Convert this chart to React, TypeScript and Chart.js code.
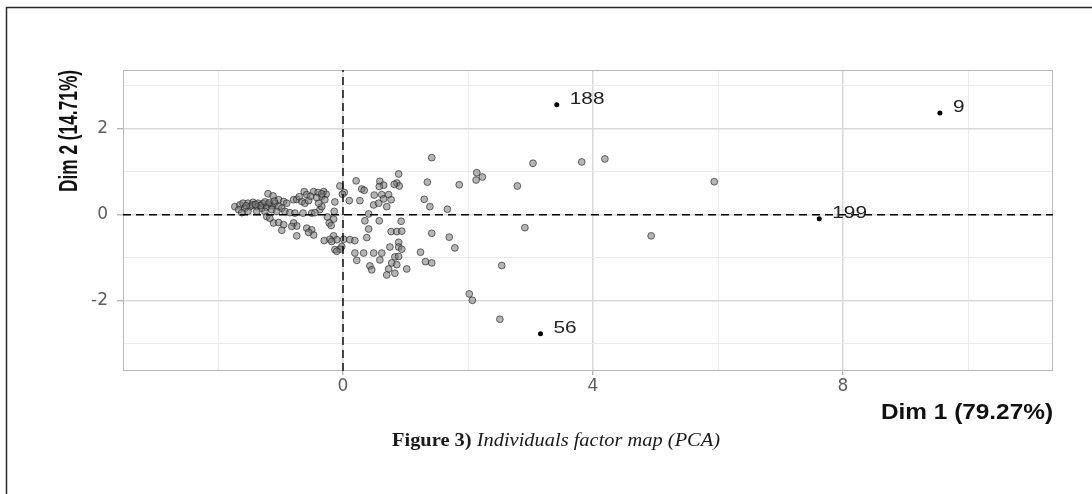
import React, { useEffect, useRef } from "react";
import { Chart, registerables } from "chart.js";

Chart.register(...registerables);

// ---- data (Dim 1, Dim 2 coordinates of individuals) ----
const dim1Values = [
  1.42, 3.04, 3.82, 4.19, 2.14, 2.13, 2.23, 1.35, 1.86, 2.79, 1.3, 1.39, 1.67, 2.91, 1.42, 1.7, 1.79, 1.24, 1.32, 1.42,
  2.54, 2.02, 2.07, 2.51, 5.94, 4.93,
  0.89, 0.21, 0.59, 0.65, 0.58, 0.86, 0.9, 0.82, -0.05, 0.02, -0.01, 0.3, 0.34, -0.31, -0.27, -0.34, -0.29, 0.5, 0.62,
  0.73, 0.65, 0.77, 0.1, 0.27, -0.13, 0.49, 0.57, 0.7, -0.14, -0.37, 0.41, -0.25, -0.15, -0.22, -0.19, 0.35, 0.58, 0.93,
  0.41, 0.77, 0.86, 0.94, 0.38, -0.15, -0.1, -0.3, -0.21, 0.01, 0.11, 0.19, 0.89, 0.75, 0.89, 0.94, -0.02, -0.05, -0.13,
  0.19, 0.33, 0.49, 0.62, 0.83, 0.89, 0.22, 0.59, 0.78, 0.43, 0.46, 0.86, 0.73, 0.7, 1.02, 0.83, -0.1, -0.18,
  -1.2, -1.12, -0.62, -0.58, -0.47, -0.4, -0.34, -1.03, -0.95, -0.9, -0.79, -0.74, -0.66, -0.61, -0.55, -1.73, -1.65,
  -1.6, -1.52, -1.44, -1.36, -1.28, -1.2, -1.67, -1.57, -1.49, -1.38, -1.3, -1.22, -1.14, -1.09, -1.03, -0.98, -1.14,
  -1.06, -1.25, -1.38, -1.52, -1.62, -1.22, -1.17, -0.93, -0.85, -0.77, -0.64, -0.5, -0.45, -0.34, -0.39, -1.11, -1.03,
  -0.95, -0.98, -0.79, -0.74, -0.82, -0.74, -0.58, -0.5, -0.47, -0.55,
  -1.45, -1.32, -1.25, -1.55, -1.4, -1.18, -1.1, -0.7, -0.52, -0.42,
];
const dim2Values = [
  1.33, 1.2, 1.23, 1.3, 0.98, 0.81, 0.88, 0.76, 0.7, 0.67, 0.36, 0.19, 0.13, -0.3, -0.43, -0.52, -0.77, -0.87, -1.09, -1.12,
  -1.18, -1.84, -1.99, -2.43, 0.77, -0.49,
  0.95, 0.79, 0.78, 0.69, 0.66, 0.74, 0.67, 0.71, 0.67, 0.52, 0.48, 0.6, 0.57, 0.54, 0.48, 0.43, 0.35, 0.46, 0.47,
  0.47, 0.37, 0.35, 0.33, 0.33, 0.3, 0.23, 0.27, 0.19, 0.08, 0.12, 0.02, -0.05, -0.1, -0.19, -0.25, -0.14, -0.14, -0.15,
  -0.33, -0.39, -0.39, -0.38, -0.53, -0.49, -0.58, -0.6, -0.57, -0.57, -0.58, -0.6, -0.64, -0.75, -0.75, -0.8, -0.74, -0.8, -0.81,
  -0.89, -0.89, -0.89, -0.89, -0.98, -0.97, -1.06, -1.05, -1.12, -1.19, -1.28, -1.16, -1.26, -1.4, -1.26, -1.36, -0.85, -0.62,
  0.49, 0.44, 0.54, 0.47, 0.54, 0.52, 0.49, 0.35, 0.31, 0.27, 0.35, 0.36, 0.31, 0.27, 0.33, 0.19, 0.23,
  0.27, 0.27, 0.29, 0.27, 0.26, 0.25, 0.12, 0.15, 0.19, 0.19, 0.15, 0.18, 0.21, 0.27, 0.19, 0.15, 0.12,
  0.08, 0.08, 0.08, 0.08, 0.05, -0.04, -0.08, 0.08, 0.05, 0.04, 0.04, 0.04, 0.05, 0.19, 0.27, -0.19, -0.18,
  -0.23, -0.36, -0.19, -0.26, -0.27, -0.49, -0.31, -0.35, -0.47, -0.41,
  0.23, 0.22, 0.3, 0.21, 0.24, 0.28, 0.32, 0.42, 0.43, 0.4,
];

const labeledNames = ["188", "9", "199", "56"];
const labeledDim1 = [3.42, 9.55, 7.62, 3.16];
const labeledDim2 = [2.56, 2.37, -0.09, -2.77];

const xRange = [-3.52, 11.36];
const yRange = [-3.635, 3.37];
const xTickLabels = ["0", "4", "8"];
const yTickLabels = ["-2", "0", "2"];

const xTitle = "Dim 1 (79.27%)";
const yTitle = "Dim 2 (14.71%)";
const captionBold = "Figure 3)";
const captionItalic = " Individuals factor map (PCA)";

function drawStretched(
  ctx: CanvasRenderingContext2D,
  text: string,
  font: string,
  cx: number,
  cy: number,
  sx: number,
  align: "left" | "right" | "center"
) {
  ctx.save();
  ctx.font = font;
  ctx.textBaseline = "middle";
  ctx.textAlign = "left";
  const w = ctx.measureText(text).width * sx;
  let left = cx;
  if (align === "right") left = cx - w;
  if (align === "center") left = cx - w / 2;
  ctx.translate(left, cy);
  ctx.scale(sx, 1);
  ctx.fillText(text, 0, 0);
  ctx.restore();
}

const isMajorX = (c: any) => c.tick && Math.abs(c.tick.value % 4) < 1e-6;
const isMajorY = (c: any) => c.tick && Math.abs(c.tick.value % 2) < 1e-6;

const decorPlugin = {
  id: "decor",
  beforeDraw(chart: any) {
    const { ctx, width, height } = chart;
    ctx.save();
    ctx.fillStyle = "#ffffff";
    ctx.fillRect(0, 0, width, height);
    ctx.strokeStyle = "#2a2a2a";
    ctx.lineWidth = 1.5;
    ctx.beginPath();
    ctx.moveTo(6.5, height);
    ctx.lineTo(6.5, 7.5);
    ctx.lineTo(width, 7.5);
    ctx.stroke();
    ctx.restore();
  },
  beforeDatasetsDraw(chart: any) {
    const { ctx, chartArea: a } = chart;
    ctx.save();
    ctx.strokeStyle = "#b8b8b8";
    ctx.lineWidth = 1;
    ctx.strokeRect(a.left + 0.5, a.top + 0.5, a.width - 1, a.height - 1);
    ctx.restore();
  },
  afterDraw(chart: any) {
    const { ctx, chartArea: a } = chart;
    // point labels
    const meta = chart.getDatasetMeta(2);
    ctx.save();
    ctx.fillStyle = "#222222";
    meta.data.forEach((el: any, i: number) => {
      drawStretched(ctx, labeledNames[i], "16px 'Liberation Sans', Arial, sans-serif", el.x + 13, el.y - 5, 1.3, "left");
    });
    // x title
    ctx.fillStyle = "#111111";
    ctx.font = "bold 22px 'Liberation Sans', Arial, sans-serif";
    const xw = ctx.measureText(xTitle).width;
    drawStretched(ctx, xTitle, "bold 22px 'Liberation Sans', Arial, sans-serif", a.right, 413, 172 / xw, "right");
    // y title (rotated, condensed along text direction)
    ctx.save();
    ctx.font = "bold 26px 'Liberation Sans', Arial, sans-serif";
    const yw = ctx.measureText(yTitle).width;
    ctx.translate(70, 131);
    ctx.rotate(-Math.PI / 2);
    drawStretched(ctx, yTitle, "bold 26px 'Liberation Sans', Arial, sans-serif", 0, 0, 122 / yw, "center");
    ctx.restore();
    // caption
    const fb = "bold 18px 'Liberation Serif', 'Times New Roman', serif";
    const fi = "italic 18px 'Liberation Serif', 'Times New Roman', serif";
    ctx.font = fb;
    const wb = ctx.measureText(captionBold).width;
    ctx.font = fi;
    const wi = ctx.measureText(captionItalic).width;
    const sx = 328 / (wb + wi);
    const left = 556 - 164;
    ctx.fillStyle = "#1a1a1a";
    drawStretched(ctx, captionBold, fb, left, 441, sx, "left");
    drawStretched(ctx, captionItalic, fi, left + wb * sx, 441, sx, "left");
    ctx.restore();
  },
};

export default function App() {
  const ref = useRef<HTMLCanvasElement | null>(null);

  useEffect(() => {
    document.body.style.margin = "0";
    const canvas = ref.current;
    if (!canvas) return;

    const points = dim1Values.map((x, i) => ({ x, y: dim2Values[i] }));
    const labeled = labeledDim1.map((x, i) => ({ x, y: labeledDim2[i] }));

    const chart = new Chart(canvas, {
      type: "scatter",
      data: {
        datasets: [
          {
            type: "line",
            data: [
              { x: 0, y: yRange[0] },
              { x: 0, y: yRange[1] },
            ],
            borderColor: "#000000",
            borderWidth: 1.4,
            borderDash: [8, 5],
            pointRadius: 0,
            fill: false,
            order: 0,
          } as any,
          {
            type: "line",
            data: [
              { x: xRange[0], y: 0 },
              { x: xRange[1], y: 0 },
            ],
            borderColor: "#000000",
            borderWidth: 1.4,
            borderDash: [8, 5],
            pointRadius: 0,
            fill: false,
            order: 1,
          } as any,
          {
            data: labeled,
            backgroundColor: "#000000",
            borderColor: "#000000",
            pointRadius: 2.5,
            borderWidth: 0,
            order: 2,
          },
          {
            data: points,
            backgroundColor: "rgba(120,120,120,0.55)",
            borderColor: "rgba(25,25,25,0.6)",
            borderWidth: 1,
            pointRadius: 3.4,
            order: 3,
          },
        ],
      },
      options: {
        responsive: false,
        animation: false,
        devicePixelRatio: 1,
        layout: { padding: { left: 0, right: 39, top: 70, bottom: 0 } },
        plugins: {
          legend: { display: false },
          tooltip: { enabled: false },
          title: { display: false },
        },
        scales: {
          x: {
            type: "linear",
            min: xRange[0],
            max: xRange[1],
            afterFit: (s: any) => {
              s.height = 123;
            },
            border: { display: false },
            grid: {
              color: (c: any) => (isMajorX(c) ? "#d9d9d9" : "#ebebeb"),
              lineWidth: (c: any) => (isMajorX(c) ? 1.6 : 1),
              tickColor: (c: any) => (isMajorX(c) ? "#9a9a9a" : "rgba(0,0,0,0)"),
              tickLength: 4,
              tickWidth: 1,
            },
            ticks: {
              stepSize: 2,
              includeBounds: false,
              autoSkip: false,
              maxRotation: 0,
              padding: 1,
              color: "#5e5e5e",
              font: { family: "'DejaVu Sans', sans-serif", size: 17 },
              callback: (v: any) => (xTickLabels.includes(String(v)) ? String(v) : ""),
            },
          },
          y: {
            type: "linear",
            min: yRange[0],
            max: yRange[1],
            afterFit: (s: any) => {
              s.width = 123;
            },
            border: { display: false },
            grid: {
              color: (c: any) => (isMajorY(c) ? "#d9d9d9" : "#ebebeb"),
              lineWidth: (c: any) => (isMajorY(c) ? 1.6 : 1),
              tickColor: (c: any) => (isMajorY(c) ? "#9a9a9a" : "rgba(0,0,0,0)"),
              tickLength: 6,
              tickWidth: 1,
            },
            ticks: {
              stepSize: 1,
              includeBounds: false,
              autoSkip: false,
              padding: 9,
              color: "#5e5e5e",
              font: { family: "'DejaVu Sans', sans-serif", size: 17 },
              callback: (v: any) => (yTickLabels.includes(String(v)) ? String(v) : ""),
            },
          },
        },
      },
      plugins: [decorPlugin],
    });

    return () => chart.destroy();
  }, []);

  return (
    <div style={{ width: 1092, height: 494 }}>
      <canvas ref={ref} width={1092} height={494} style={{ display: "block" }} />
    </div>
  );
}
